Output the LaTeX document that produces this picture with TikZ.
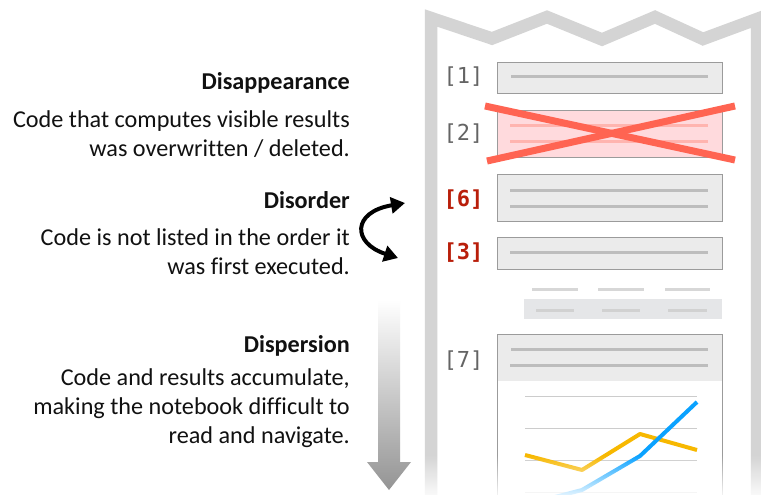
\documentclass[tikz,border=0pt]{standalone}
\usepackage{fontspec}
\setmainfont{Carlito}[Ligatures={NoCommon}]
\newfontfamily\monofont{DejaVu Sans Mono}
\usetikzlibrary{arrows.meta,fadings}
\definecolor{framegray}{RGB}{212,212,212}
\definecolor{cellfill}{RGB}{235,235,235}
\definecolor{cellborder}{RGB}{155,155,155}
\definecolor{codegray}{RGB}{189,189,189}
\definecolor{pinkfill}{RGB}{255,218,221}
\definecolor{pinkline}{RGB}{255,180,175}
\definecolor{crossred}{RGB}{255,100,82}
\definecolor{labred}{RGB}{185,30,10}
\definecolor{labgray}{RGB}{100,100,100}
\definecolor{tabfill}{RGB}{229,230,232}
\definecolor{tabdash}{RGB}{215,215,215}
\definecolor{gridgray}{RGB}{204,204,204}
\definecolor{orangeline}{RGB}{247,184,0}
\definecolor{blueline}{RGB}{10,162,255}
\definecolor{textblack}{RGB}{17,17,17}
\tikzfading[name=fadebottom, top color=transparent!100, bottom color=transparent!12]
\tikzset{
  cellbox/.style={draw=cellborder, fill=cellfill, line width=1pt, minimum width=225pt, anchor=north west, inner sep=0pt},
  codeline/.style={draw=codegray, line width=3pt},
  lab/.style={font=\monofont\fontsize{22}{22}\selectfont, text=labgray, anchor=base, inner sep=0pt},
  labbold/.style={font=\monofont\bfseries\fontsize{22}{22}\selectfont, text=labred, anchor=base, inner sep=0pt},
  headtxt/.style={font=\bfseries\fontsize{24.2}{24.2}\selectfont, text=textblack, anchor=base east, inner sep=0pt},
  bodytxt/.style={font=\fontsize{24.2}{24.2}\selectfont, text=textblack, anchor=base east, inner sep=0pt},
}
\begin{document}
\begin{tikzpicture}[x=1pt,y=-1pt]
\useasboundingbox (0,0) rectangle (761,495);
\fill[white] (0,0) rectangle (761,495);
% notebook frame
\draw[framegray, line width=12.5pt, line join=miter]
  (431,500) -- (431,18) -- (492,38.5) -- (547,17) -- (602,39.5) -- (655,17) -- (703,39) -- (757,19) -- (757,500);
% cells
\node[cellbox, minimum height=31pt] (c1) at (497,62) {};
\draw[codeline] (511,77) -- (708,77);
\node[cellbox, fill=pinkfill, minimum height=47pt] (c2) at (497,110) {};
\draw[codeline, draw=pinkline] (510,125) -- (708,125);
\draw[codeline, draw=pinkline] (510,141) -- (708,141);
\draw[crossred, line width=7pt] (485,106) -- (735,160);
\draw[crossred, line width=7pt] (487,161) -- (735,106);
\node[cellbox, minimum height=47pt] (c6) at (497,174) {};
\draw[codeline] (510,190) -- (708,190);
\draw[codeline] (510,206) -- (708,206);
\node[cellbox, minimum height=32pt] (c3) at (497,237) {};
\draw[codeline] (510,252) -- (708,252);
% table output
\draw[tabdash, line width=3pt] (532,289) -- (578,289) (598,289) -- (644,289) (665,289) -- (710,289);
\fill[tabfill] (524,299) rectangle (722,319);
\draw[tabdash, line width=3pt, draw=codegray!70] (536,310) -- (574,310) (602,310) -- (640,310) (668,310) -- (707,310);
% cell 7
\node[cellbox, minimum height=47pt] (c7) at (497,334) {};
\draw[codeline] (511,349) -- (708,349);
\draw[codeline] (510,365) -- (708,365);
\draw[cellborder, fill=white, line width=1pt] (497,381) -- (497,500) -- (722,500) -- (722,381);
\foreach \yy in {396,428,460,492} \draw[gridgray, line width=1pt] (525,\yy) -- (697,\yy);
\draw[orangeline, line width=4pt, line join=round] (525,455) -- (582,470) -- (640,434) -- (697,450);
\draw[blueline, line width=4pt, line join=round] (520,505) -- (555,497) -- (582,490) -- (640,456) -- (697,402);
% bottom fade
\fill[white, path fading=fadebottom] (415,455) rectangle (761,495);
% labels
\node[lab] (l1) at (463.5,84) {[1]};
\node[lab] (l2) at (463.5,140) {[2]};
\node[labbold] (l6) at (463.5,206) {[6]};
\node[labbold] (l3) at (463.5,259) {[3]};
\node[lab] (l7) at (463.5,367) {[7]};
% left texts
\node[headtxt] (h1) at (350,89) {Disappearance};
\node[bodytxt] (t1a) at (350,128) {Code that computes visible results};
\node[bodytxt] (t1b) at (350,157) {was overwritten / deleted.};
\node[headtxt] (h2) at (350,208) {Disorder};
\node[bodytxt] (t2a) at (350,245) {Code is not listed in the order it};
\node[bodytxt] (t2b) at (350,274) {was first executed.};
\node[headtxt] (h3) at (350,352) {Dispersion};
\node[bodytxt] (t3a) at (350,385) {Code and results accumulate,};
\node[bodytxt] (t3b) at (350,414) {making the notebook difficult to};
\node[bodytxt] (t3c) at (350,443) {read and navigate.};
% curved arrow
\coordinate (a1) at (398,258);
\coordinate (a2) at (405,203);
\draw[black, line width=4pt, {Triangle[length=14pt,width=16pt]}-{Triangle[length=14pt,width=16pt]}]
  (a1) .. controls (352,243) and (352,212) .. (a2);
% gradient arrow
\shade[top color=white, bottom color=black!42]
  (378,300) -- (400,300) -- (400,462) -- (411,462) -- (389,490) -- (367,462) -- (378,462) -- cycle;
\end{tikzpicture}
\end{document}
